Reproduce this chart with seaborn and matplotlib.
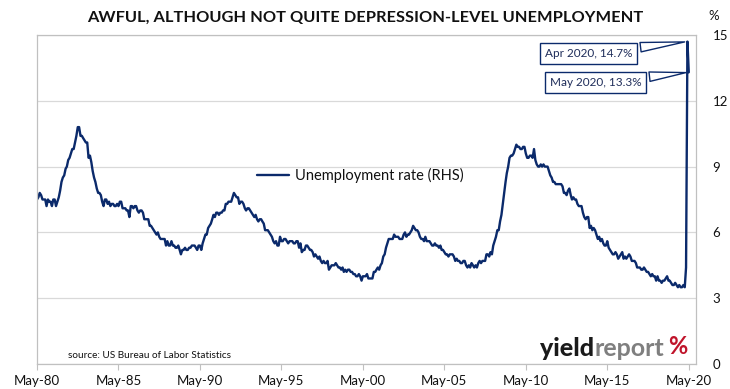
import matplotlib
matplotlib.use('Agg')
import matplotlib.pyplot as plt
import matplotlib.dates as mdates
import seaborn as sns
import pandas as pd
import numpy as np

# US unemployment rate (%), monthly, starting May 1980
rate_1980s = [7.5, 7.6, 7.8, 7.7, 7.5, 7.5, 7.5, 7.2,
              7.5, 7.4, 7.4, 7.2, 7.5, 7.5, 7.2, 7.4, 7.6, 7.9, 8.3, 8.5,
              8.6, 8.9, 9.0, 9.3, 9.4, 9.6, 9.8, 9.8, 10.1, 10.4, 10.8, 10.8,
              10.4, 10.4, 10.3, 10.2, 10.1, 10.1, 9.4, 9.5, 9.2, 8.8, 8.5, 8.3,
              8.0, 7.8, 7.8, 7.7, 7.4, 7.2, 7.5, 7.5, 7.3, 7.4, 7.2, 7.3,
              7.3, 7.2, 7.2, 7.3, 7.2, 7.4, 7.4, 7.1, 7.1, 7.1, 7.0, 7.0,
              6.7, 7.2, 7.2, 7.1, 7.2, 7.2, 7.0, 6.9, 7.0, 7.0, 6.9, 6.6,
              6.6, 6.6, 6.6, 6.3, 6.3, 6.2, 6.1, 6.0, 5.9, 6.0, 5.8, 5.7,
              5.7, 5.7, 5.7, 5.4, 5.6, 5.4, 5.4, 5.6, 5.4, 5.4, 5.3, 5.3,
              5.4, 5.2, 5.0, 5.2, 5.2, 5.3, 5.2, 5.2, 5.3, 5.3, 5.4, 5.4]
rate_1990s = [5.4, 5.3, 5.2, 5.4, 5.4, 5.2, 5.5, 5.7, 5.9, 5.9, 6.2, 6.3,
              6.4, 6.6, 6.8, 6.7, 6.9, 6.9, 6.8, 6.9, 6.9, 7.0, 7.0, 7.3,
              7.3, 7.4, 7.4, 7.4, 7.6, 7.8, 7.7, 7.6, 7.6, 7.3, 7.4, 7.4,
              7.3, 7.1, 7.0, 7.1, 7.1, 7.0, 6.9, 6.8, 6.7, 6.8, 6.6, 6.5,
              6.6, 6.6, 6.5, 6.4, 6.1, 6.1, 6.1, 6.0, 5.9, 5.8, 5.6, 5.5,
              5.6, 5.4, 5.4, 5.8, 5.6, 5.6, 5.7, 5.7, 5.6, 5.5, 5.6, 5.6,
              5.6, 5.5, 5.5, 5.6, 5.6, 5.3, 5.5, 5.1, 5.2, 5.2, 5.4, 5.4,
              5.3, 5.2, 5.2, 5.1, 4.9, 5.0, 4.9, 4.8, 4.9, 4.7, 4.6, 4.7,
              4.6, 4.6, 4.7, 4.3, 4.4, 4.5, 4.5, 4.5, 4.6, 4.5, 4.4, 4.4,
              4.3, 4.4, 4.2, 4.3, 4.2, 4.3, 4.3, 4.2, 4.2, 4.1, 4.1, 4.0]
rate_2000s = [4.0, 4.1, 4.0, 3.8, 4.0, 4.0, 4.0, 4.1, 3.9, 3.9, 3.9, 3.9,
              4.2, 4.2, 4.3, 4.4, 4.3, 4.5, 4.6, 4.9, 5.0, 5.3, 5.5, 5.7,
              5.7, 5.7, 5.7, 5.9, 5.8, 5.8, 5.8, 5.7, 5.7, 5.7, 5.9, 6.0,
              5.8, 5.9, 5.9, 6.0, 6.1, 6.3, 6.2, 6.1, 6.1, 6.0, 5.8, 5.7,
              5.7, 5.6, 5.8, 5.6, 5.6, 5.6, 5.5, 5.4, 5.4, 5.5, 5.4, 5.4,
              5.3, 5.4, 5.2, 5.2, 5.1, 5.0, 5.0, 4.9, 5.0, 5.0, 5.0, 4.9,
              4.7, 4.8, 4.7, 4.7, 4.6, 4.6, 4.7, 4.7, 4.5, 4.4, 4.5, 4.4,
              4.6, 4.5, 4.4, 4.5, 4.4, 4.6, 4.7, 4.6, 4.7, 4.7, 4.7, 5.0,
              5.0, 4.9, 5.1, 5.0, 5.4, 5.6, 5.8, 6.1, 6.1, 6.5, 6.8, 7.3,
              7.8, 8.3, 8.7, 9.0, 9.4, 9.5, 9.5, 9.6, 9.8, 10.0, 9.9, 9.9]
rate_2010s = [9.8, 9.8, 9.9, 9.9, 9.6, 9.4, 9.4, 9.5, 9.5, 9.4, 9.8, 9.3,
              9.1, 9.0, 9.0, 9.1, 9.0, 9.1, 9.0, 9.0, 9.0, 8.8, 8.6, 8.5,
              8.3, 8.3, 8.2, 8.2, 8.2, 8.2, 8.2, 8.1, 7.8, 7.8, 7.7, 7.9,
              8.0, 7.7, 7.5, 7.6, 7.5, 7.5, 7.3, 7.2, 7.2, 7.2, 6.9, 6.7,
              6.6, 6.7, 6.7, 6.2, 6.3, 6.1, 6.2, 6.1, 5.9, 5.7, 5.8, 5.6,
              5.7, 5.5, 5.4, 5.4, 5.6, 5.3, 5.2, 5.1, 5.0, 5.0, 5.1, 5.0,
              4.8, 4.9, 5.0, 5.1, 4.8, 4.9, 4.8, 4.9, 5.0, 4.9, 4.7, 4.7,
              4.7, 4.6, 4.4, 4.4, 4.4, 4.3, 4.3, 4.4, 4.3, 4.2, 4.2, 4.1,
              4.0, 4.1, 4.0, 4.0, 3.8, 4.0, 3.8, 3.8, 3.7, 3.8, 3.8, 3.9,
              4.0, 3.8, 3.8, 3.7, 3.6, 3.6, 3.7, 3.6, 3.5, 3.6, 3.5, 3.5]
rate_2020 = [3.6, 3.5, 4.4, 14.7, 13.3]

y_ticks = [0, 3, 6, 9, 12, 15]
tick_years = [1980, 1985, 1990, 1995, 2000, 2005, 2010, 2015, 2020]

rates = rate_1980s + rate_1990s + rate_2000s + rate_2010s + rate_2020
dates = pd.date_range('1980-05-01', periods=len(rates), freq='MS')
df = pd.DataFrame({'Date': dates, 'Rate': rates})

navy = '#0b2a6b'
grid_col = '#d9d9d9'
frame_col = '#c0c0c0'

sns.set_theme(style='white')
plt.rcParams['font.family'] = ['Lato', 'DejaVu Sans']

fig = plt.figure(figsize=(7.3, 3.89), dpi=100)
ax = fig.add_axes([37 / 730, 1 - 364 / 389, 659 / 730, 329 / 389])

sns.lineplot(data=df, x='Date', y='Rate', ax=ax, color=navy, linewidth=1.7,
             label='Unemployment rate (RHS)')

ax.set_xlim(pd.Timestamp('1980-05-01'), pd.Timestamp('2020-10-10'))
ax.set_ylim(0, 15)
ax.yaxis.tick_right()
ax.set_yticks(y_ticks)
ax.tick_params(axis='y', length=0, pad=12, labelsize=9.5, labelcolor='#111111')
ax.set_xticks([pd.Timestamp(f'{y}-05-01') for y in tick_years])
ax.xaxis.set_major_formatter(mdates.DateFormatter('%b-%y'))
ax.tick_params(axis='x', length=4, width=0.8, color=frame_col, direction='out',
               bottom=True, labelsize=9.5, labelcolor='#111111', pad=4)
ax.set_xlabel('')
ax.set_ylabel('')
ax.grid(axis='y', color=grid_col, linewidth=0.9)
for s in ax.spines.values():
    s.set_color(frame_col)
    s.set_linewidth(0.9)

ax.text(1.0 + 12 / 659, 1.0 + 19 / 329, '%', transform=ax.transAxes, fontsize=9.5,
        ha='left', va='center', color='#111111')

leg = ax.legend(loc='center', bbox_to_anchor=(0.49, 0.572), frameon=False,
                fontsize=10.5, handlelength=2.2, handletextpad=0.4)
for t in leg.get_texts():
    t.set_color('#111111')

# callouts for the latest readings
for month, val, off in [('2020-04-01', 14.7, (-71, -8.5)), ('2020-05-01', 13.3, (-67, -7.5))]:
    lbl = pd.Timestamp(month).strftime('%b %Y') + f', {val}%'
    ax.annotate(lbl, xy=(pd.Timestamp(month), val), xytext=off, textcoords='offset points',
                ha='center', va='center', fontsize=8.5, color='#1f2d5a',
                bbox=dict(boxstyle='square,pad=0.4', fc='white', ec=navy, lw=1.0),
                arrowprops=dict(arrowstyle='wedge,tail_width=0.8,shrink_factor=0.5',
                                fc='white', ec=navy, lw=1.0))

ax.text((68 - 37) / 659, (364 - 355) / 329, 'source: US Bureau of Labor Statistics',
        transform=ax.transAxes, fontsize=7.2, ha='left', va='center', color='#111111')

# logo
fig.text(540 / 730, 1 - 349 / 389, 'yield', fontsize=18, fontweight='black',
         color='#1a1a1a', ha='left', va='center')
fig.text(594 / 730, 1 - 349 / 389, 'report', fontsize=18, fontweight='bold',
         color='#7f7f7f', ha='left', va='center')
fig.text(668 / 730, 1 - 347 / 389, '%', fontsize=17, fontweight='bold',
         color='#c0142b', ha='left', va='center')

fig.suptitle('AWFUL, ALTHOUGH NOT QUITE DEPRESSION-LEVEL UNEMPLOYMENT',
             x=0.5, y=1 - 18 / 389, va='center', fontsize=11.8, fontweight='bold',
             color='#111111')

plt.savefig('out.png', dpi=100)
plt.close()
